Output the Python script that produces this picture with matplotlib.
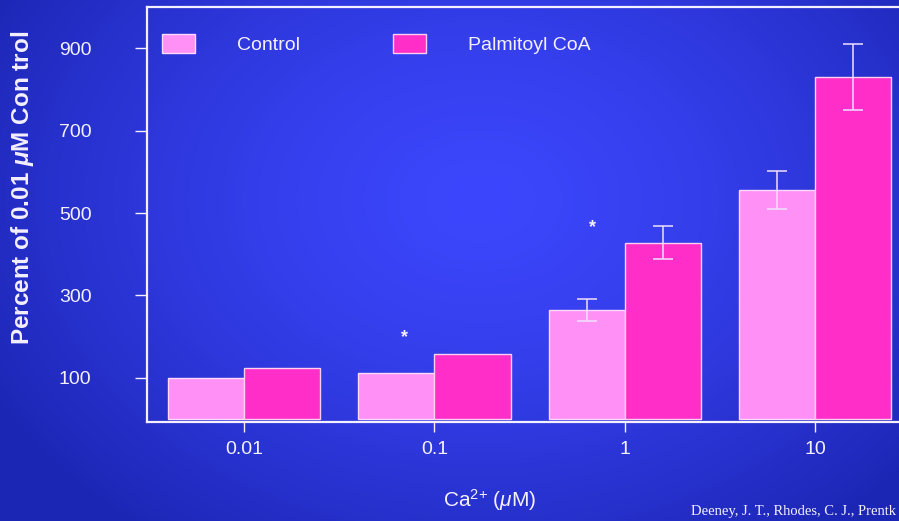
import numpy as np
import matplotlib
matplotlib.use('Agg')
import matplotlib.pyplot as plt

categories = ['0.01', '0.1', '1', '10']
control = [100, 112, 265, 557]
palmitoyl = [125, 158, 428, 831]
control_err = [0, 0, 27, 46]
palmitoyl_err = [0, 0, 40, 80]
star_x = [0.84, 1.83]
star_y = [197, 465]
yticks = [100, 300, 500, 700, 900]

plt.rcParams['font.family'] = ['Liberation Sans', 'DejaVu Sans']
plt.rcParams['mathtext.fontset'] = 'custom'
plt.rcParams['mathtext.rm'] = 'Liberation Sans'
plt.rcParams['mathtext.it'] = 'Liberation Sans:italic'
plt.rcParams['mathtext.bf'] = 'Liberation Sans:bold'
plt.rcParams['mathtext.bfit'] = 'Liberation Sans:italic:bold'
WHITE = '#f4f0ff'
C_CTRL = '#ff90f6'
C_PALM = '#ff2ec8'

fig = plt.figure(figsize=(8.99, 5.21), dpi=100)

# blue radial background
bg = fig.add_axes([0, 0, 1, 1], zorder=-1)
yy, xx = np.mgrid[0:521, 0:899]
d = np.sqrt(((xx - 480) / 560.0) ** 2 + ((yy - 200) / 420.0) ** 2)
d = np.clip(d, 0, 1)
c0 = np.array([60, 70, 252]) / 255.0
c1 = np.array([28, 38, 180]) / 255.0
img = c0[None, None, :] * (1 - d[..., None] ** 1.5) + c1[None, None, :] * d[..., None] ** 1.5
bg.imshow(img, aspect='auto', extent=[0, 1, 0, 1])
bg.axis('off')

ax = fig.add_axes([147 / 899, 1 - 422 / 521, 1 - 147 / 899, (422 - 7) / 521])
ax.set_facecolor('none')

x = np.arange(len(categories))
w = 0.4
ax.bar(x - w / 2, control, w, color=C_CTRL, edgecolor='#ffd8ff', linewidth=1.0, label='Control')
ax.bar(x + w / 2, palmitoyl, w, color=C_PALM, edgecolor='#ffd0f0', linewidth=1.0, label='Palmitoyl CoA')

idx = [i for i in range(len(categories)) if control_err[i] > 0]
ax.errorbar(x[idx] - w / 2, np.array(control)[idx], yerr=np.array(control_err)[idx],
            fmt='none', ecolor='#f0e0ff', elinewidth=1.1, capsize=7, capthick=1.1)
idx = [i for i in range(len(categories)) if palmitoyl_err[i] > 0]
ax.errorbar(x[idx] + w / 2, np.array(palmitoyl)[idx], yerr=np.array(palmitoyl_err)[idx],
            fmt='none', ecolor='#f0e0ff', elinewidth=1.1, capsize=7, capthick=1.1)

for sx, sy in zip(star_x, star_y):
    ax.text(sx, sy, '*', color=WHITE, fontsize=13, fontweight='bold', ha='center', va='center')

ax.set_xlim(-0.51, 3.44)
ax.set_ylim(-7, 1000)
ax.set_xticks(x)
ax.set_xticklabels(categories)
ax.set_yticks(yticks)

for s in ['left', 'bottom', 'top']:
    ax.spines[s].set_color(WHITE)
    ax.spines[s].set_linewidth(1.6)
ax.spines['right'].set_visible(False)

ax.tick_params(axis='y', direction='out', length=9, width=1, color=WHITE, pad=31,
               labelcolor=WHITE, labelsize=14)
ax.tick_params(axis='x', direction='out', length=7, width=1, color=WHITE, pad=7,
               labelcolor=WHITE, labelsize=14)

leg = ax.legend(loc='upper left', bbox_to_anchor=(0.02, 0.935), ncol=2, frameon=False,
                fontsize=14, handlelength=1.7, handleheight=1.15, handletextpad=2.15,
                columnspacing=4.8, borderpad=0, borderaxespad=0)
for t in leg.get_texts():
    t.set_color(WHITE)

fig.text(23 / 899, 1 - 188 / 521, r'Percent of 0.01 $\mathbfit{\mu}$M Con trol', rotation=90,
         color=WHITE, fontsize=17.5, fontweight='bold', ha='center', va='center')
fig.text(490 / 899, 1 - 500 / 521, r'Ca$^{2{+}}$ ($\mu$M)', color=WHITE, fontsize=15,
         ha='center', va='center')
fig.text(896 / 899, 1 - 512 / 521, 'Deeney, J. T., Rhodes, C. J., Prentk', color=WHITE,
         fontsize=10.5, family='Liberation Serif', ha='right', va='center')

fig.savefig('out.png', dpi=100)
